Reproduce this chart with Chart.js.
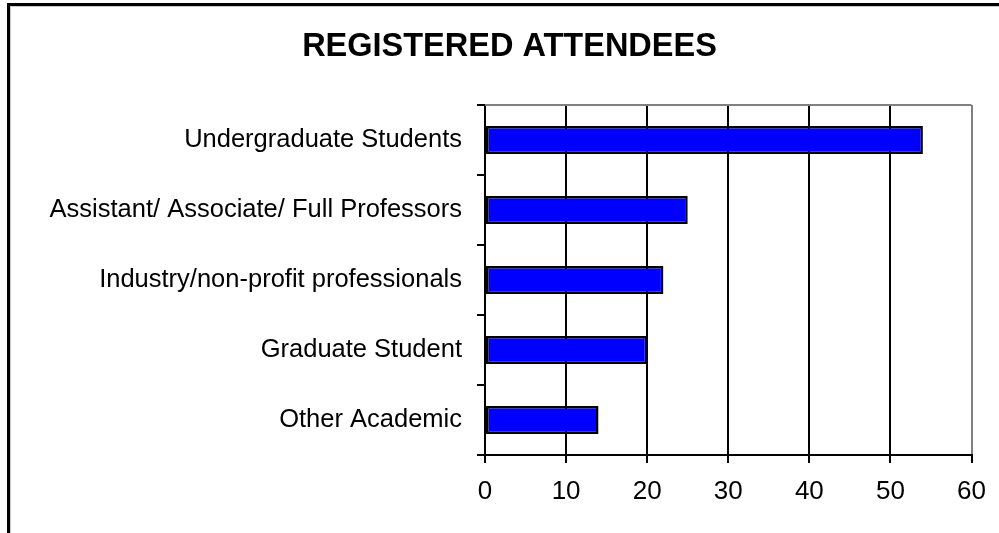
<!DOCTYPE html>
<html>
<head>
<meta charset="utf-8">
<script src="https://cdn.jsdelivr.net/npm/chart.js@4/dist/chart.umd.min.js"></script>
<style>
  html, body { margin: 0; padding: 0; background: #fff; }
  #wrap { position: relative; width: 999px; height: 533px; }
</style>
</head>
<body>
<div id="wrap"><canvas id="chart" width="999" height="533"></canvas></div>
<script>
const categories = [
  "Undergraduate Students",
  "Assistant/ Associate/ Full Professors",
  "Industry/non-profit professionals",
  "Graduate Student",
  "Other Academic"
];
const attendees = [54, 25, 22, 20, 14];
const xTicks = [0, 10, 20, 30, 40, 50, 60];

const FONT = '"Liberation Sans", Arial, sans-serif';

// outer frame (left + top edges) and the gray top edge of the plot area
const framePlugin = {
  id: "frame",
  beforeDraw(chart) {
    const c = chart.ctx;
    c.save();
    c.fillStyle = "#fff";
    c.fillRect(0, 0, chart.width, chart.height);
    c.fillStyle = "#000";
    c.fillRect(7, 3, 3, chart.height - 3);
    c.fillRect(7, 3, chart.width - 7, 3);
    c.fillStyle = "#c8c8c8";
    c.fillRect(10, 6, chart.width - 10, 1);
    c.fillRect(10, 6, 1, chart.height - 6);
    c.restore();
  },
  afterDatasetsDraw(chart) {
    const a = chart.chartArea;
    const c = chart.ctx;
    c.save();
    c.strokeStyle = "#808080";
    c.lineWidth = 2;
    c.beginPath();
    c.moveTo(a.left, a.top);
    c.lineTo(a.right, a.top);
    c.stroke();
    c.restore();
  }
};

new Chart(document.getElementById("chart"), {
  type: "bar",
  data: {
    labels: categories,
    datasets: [{
      data: attendees,
      backgroundColor: "#0000ff",
      borderColor: "#000",
      borderWidth: 2.5,
      borderSkipped: false,
      barPercentage: 0.4,
      categoryPercentage: 1
    }]
  },
  options: {
    indexAxis: "y",
    responsive: false,
    animation: false,
    layout: { padding: { left: 20, right: 0, top: 0, bottom: 0 } },
    plugins: {
      legend: { display: false },
      tooltip: { enabled: false },
      title: {
        display: true,
        text: "REGISTERED ATTENDEES",
        color: "#000",
        font: { family: FONT, size: 32.5, weight: "bold", lineHeight: 1.2 },
        padding: { top: 28, bottom: 38 }
      }
    },
    scales: {
      x: {
        min: 0,
        max: 60,
        afterBuildTicks(scale) {
          scale.ticks = xTicks.map(v => ({ value: v }));
        },
        afterFit(scale) { scale.height = 78; },
        border: { display: true, color: "#000", width: 2 },
        grid: {
          color: ctx => (ctx.tick && ctx.tick.value === 60 ? "#808080" : "#000"),
          tickColor: "#000",
          lineWidth: 2,
          tickLength: 8
        },
        ticks: {
          color: "#000",
          padding: 13,
          maxRotation: 0,
          autoSkip: false,
          font: { family: FONT, size: 26 }
        }
      },
      y: {
        afterFit(scale) { scale.width = 465; },
        border: { display: true, color: "#000", width: 2 },
        grid: {
          drawOnChartArea: false,
          drawTicks: true,
          tickLength: 8,
          color: "#000",
          lineWidth: 2
        },
        ticks: {
          color: "#000",
          padding: 15,
          autoSkip: false,
          font: { family: FONT, size: 25.5 }
        }
      },
      // empty right-hand margin beside the plot
      yRight: {
        type: "category",
        position: "right",
        afterFit(scale) { scale.width = 26; },
        border: { display: false },
        grid: { display: false },
        ticks: { display: false }
      }
    }
  },
  plugins: [framePlugin]
});
</script>
</body>
</html>
